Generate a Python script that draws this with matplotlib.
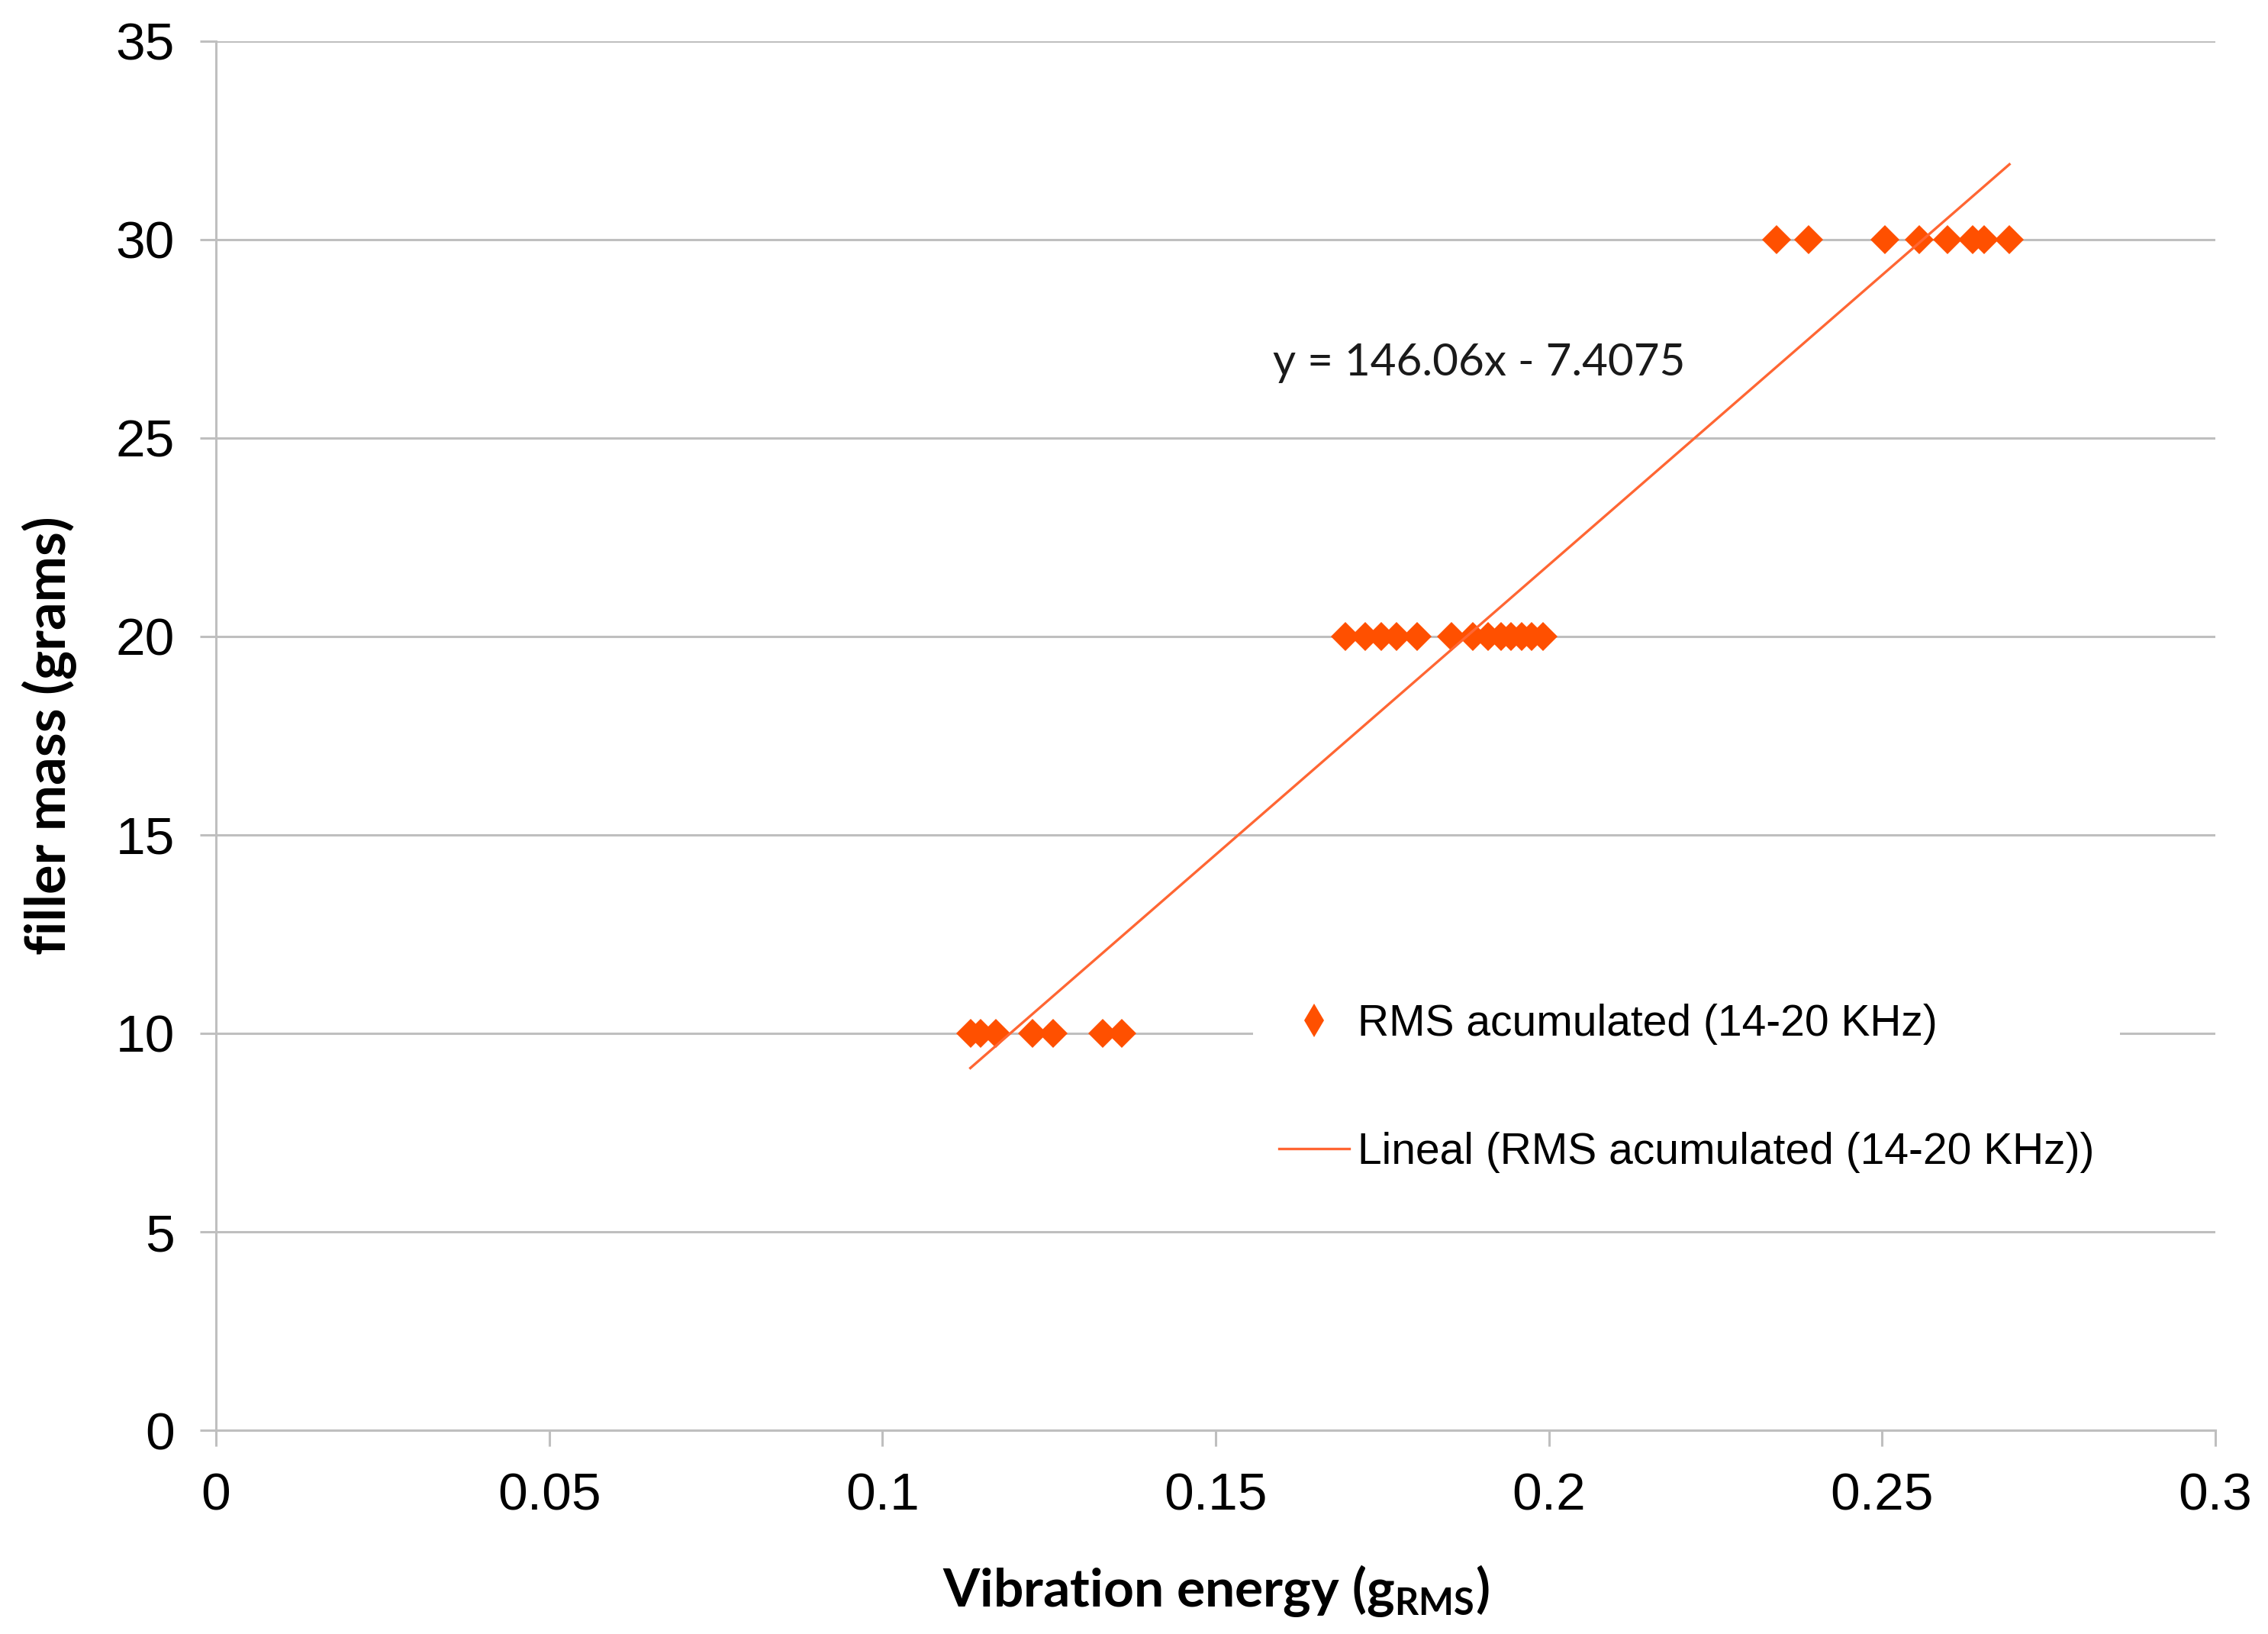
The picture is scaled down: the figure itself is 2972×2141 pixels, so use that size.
import matplotlib
matplotlib.use("Agg")
import matplotlib.pyplot as plt
from matplotlib.lines import Line2D
import numpy as np

# filler mass levels and measured vibration energy (g_RMS)
x_10g = [0.1132, 0.1147, 0.1170, 0.1225, 0.1256, 0.1331, 0.1359]
x_20g = [0.1695, 0.1724, 0.1749, 0.1771, 0.1802, 0.1854, 0.1886,
         0.1909, 0.1928, 0.1943, 0.1959, 0.1974, 0.1991]
x_30g = [0.2342, 0.2390, 0.2504, 0.2556, 0.2598, 0.2636, 0.2653, 0.2691]

energy = x_10g + x_20g + x_30g
mass = [10] * len(x_10g) + [20] * len(x_20g) + [30] * len(x_30g)

# linear trend shown on the chart
slope = 146.06
intercept = -7.4075

x_ticks = [0, 0.05, 0.1, 0.15, 0.2, 0.25, 0.3]
x_tick_labels = ["0", "0.05", "0.1", "0.15", "0.2", "0.25", "0.3"]
y_ticks = [0, 5, 10, 15, 20, 25, 30, 35]

MARKER_COLOR = "#FF5000"
LINE_COLOR = "#FF6633"
GRID_COLOR = "#BFBFBF"

fig = plt.figure(figsize=(14.86, 10.705), dpi=200)
ax = fig.add_axes([0.0952, 0.1247, 0.8816, 0.8501])

ax.set_axisbelow(True)
ax.grid(axis="y", color=GRID_COLOR, linewidth=1.1)

ax.plot(energy, mass, ls="none", marker="D", ms=9.8, color=MARKER_COLOR,
        markeredgewidth=0, zorder=3)

trend_x = np.array([min(energy), max(energy)])
ax.plot(trend_x, slope * trend_x + intercept, color=LINE_COLOR, lw=1.2, zorder=4)

ax.text(0.1586, 26.9, "y = 146.06x - 7.4075", family="Lato", fontsize=21,
        ha="left", va="center", color="#1a1a1a")

ax.set_xlim(0, 0.3)
ax.set_ylim(0, 35)
ax.set_xticks(x_ticks)
ax.set_xticklabels(x_tick_labels)
ax.set_yticks(y_ticks)

for side in ["top", "right"]:
    ax.spines[side].set_visible(False)
for side in ["left", "bottom"]:
    ax.spines[side].set_color(GRID_COLOR)
    ax.spines[side].set_linewidth(1.1)

ax.tick_params(axis="both", length=7.5, width=1.1, color=GRID_COLOR,
               labelsize=25, pad=12)
for lbl in ax.get_xticklabels() + ax.get_yticklabels():
    lbl.set_family("Liberation Sans")

ax.set_xlabel(r"Vibration energy (g$_{\mathregular{RMS}}$)", family="Lato",
              fontweight="bold", fontsize=25, labelpad=20)
ax.set_ylabel("filler mass (grams)", family="Lato", fontweight="bold",
              fontsize=26, labelpad=18)

handles = [
    Line2D([], [], ls="none", marker="d", ms=11, color=MARKER_COLOR,
           markeredgewidth=0),
    Line2D([], [], color=LINE_COLOR, lw=1.2),
]
labels = ["RMS acumulated (14-20 KHz)", "Lineal (RMS acumulated (14-20 KHz))"]
leg = fig.legend(handles, labels, loc="upper left", bbox_to_anchor=(0.543, 0.415),
                 frameon=True, fancybox=False, edgecolor="none", facecolor="white",
                 framealpha=1, handlelength=1.6, handletextpad=0.2,
                 labelspacing=2.0, borderpad=0.6,
                 prop={"family": "Liberation Sans", "size": 20.5})
leg.get_frame().set_linewidth(0)

fig.savefig("out.png", dpi=200)
